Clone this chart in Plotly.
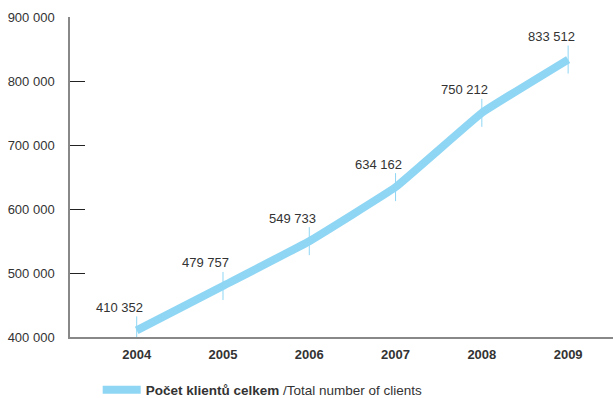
import plotly.graph_objects as go

years = ["2004", "2005", "2006", "2007", "2008", "2009"]
clients = [410352, 479757, 549733, 634162, 750212, 833512]
y_ticks = [400000, 500000, 600000, 700000, 800000, 900000]
series_name = "<b>Počet klientů celkem</b> /Total number of clients"

LINE_COLOR = "#8fd6f4"
FONT = "Liberation Sans, Arial, sans-serif"

def fmt(v):
    return f"{v:,}".replace(",", " ")

fig = go.Figure()
fig.add_trace(go.Scatter(
    x=years, y=clients, mode="lines", name=series_name,
    line=dict(color=LINE_COLOR, width=8, shape="spline", smoothing=0.25),
    hoverinfo="skip",
))
fig.add_trace(go.Scatter(
    x=years, y=clients, mode="markers", showlegend=False,
    marker=dict(symbol="line-ns", size=20, line=dict(color=LINE_COLOR, width=1)),
    hoverinfo="skip",
))

for i, v in enumerate(clients):
    fig.add_annotation(x=i, y=v, text=fmt(v), showarrow=False,
                       xanchor="center", yanchor="middle",
                       xshift=-17, yshift=23,
                       font=dict(family=FONT, size=13, color="#333333"))

fig.update_layout(
    width=613, height=398,
    margin=dict(l=70, r=0, t=17, b=61, autoexpand=False),
    paper_bgcolor="white", plot_bgcolor="white",
    font=dict(family=FONT, size=13, color="#333333"),
    showlegend=True,
    legend=dict(orientation="h", x=0.051, xanchor="left",
                yref="container", y=0.02, yanchor="middle",
                font=dict(family=FONT, size=13.5, color="#333333"),
                itemwidth=38, bgcolor="rgba(0,0,0,0)"),
)
fig.update_xaxes(
    type="category", range=[-0.773, 5.52],
    showline=True, linecolor="#888888", linewidth=1.5,
    showgrid=False, zeroline=False, ticks="",
    tickfont=dict(family=FONT, size=13, color="#333333", weight="bold"),
    ticklabelstandoff=5,
)
fig.update_yaxes(
    range=[400000, 900000], tickvals=y_ticks,
    ticktext=[fmt(v) for v in y_ticks],
    showline=True, linecolor="#888888", linewidth=1.5,
    showgrid=False, zeroline=False,
    ticks="inside", ticklen=15, tickcolor="#222222", tickwidth=1,
    tickfont=dict(family=FONT, size=13, color="#333333"),
    ticklabelstandoff=11,
)

fig.write_html("out.html")
